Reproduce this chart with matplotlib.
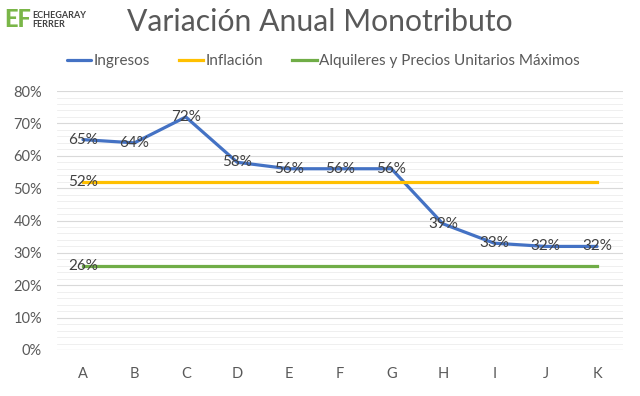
import matplotlib.pyplot as plt
import numpy as np

# Datos
categorias = ['A', 'B', 'C', 'D', 'E', 'F', 'G', 'H', 'I', 'J', 'K']
ingresos = [65, 64, 72, 58, 56, 56, 56, 39, 33, 32, 32]
inflacion = [52] * 11
alquileres = [26] * 11
y_ticks = [0, 10, 20, 30, 40, 50, 60, 70, 80]

plt.rcParams['font.family'] = ['Lato', 'DejaVu Sans']

fig = plt.figure(figsize=(6.4, 3.96), dpi=100)
ax = fig.add_axes([0.0895, 0.1162, 0.8835, 0.6538])

x = np.arange(len(categorias))
ax.plot(x, ingresos, color='#4472C4', linewidth=2.3, label='Ingresos', solid_capstyle='round')
ax.plot(x, inflacion, color='#FFC000', linewidth=2.3, label='Inflación')
ax.plot(x, alquileres, color='#70AD47', linewidth=2.3, label='Alquileres y Precios Unitarios Máximos')

# Etiquetas de datos
for xi, v in zip(x, ingresos):
    ax.text(xi, v, f'{v}%', ha='center', va='center', fontsize=11, color='#404040')
ax.text(x[0], inflacion[0], f'{inflacion[0]}%', ha='center', va='center', fontsize=11, color='#404040')
ax.text(x[0], alquileres[0], f'{alquileres[0]}%', ha='center', va='center', fontsize=11, color='#404040')

ax.set_xlim(-0.5, len(categorias) - 0.5)
ax.set_ylim(0, 80)
ax.set_xticks(x)
ax.set_xticklabels(categorias)
ax.set_yticks(y_ticks)
ax.set_yticklabels([f'{t}%' for t in y_ticks])
ax.set_yticks(np.arange(0, 81, 2), minor=True)
ax.tick_params(axis='both', which='both', length=0, labelsize=10.5, colors='#595959')
ax.tick_params(axis='y', pad=11)
ax.tick_params(axis='x', pad=12)
ax.grid(True, axis='y', which='major', color='#D9D9D9', linewidth=0.8)
ax.grid(True, axis='y', which='minor', color='#EDEDED', linewidth=0.6)
ax.set_axisbelow(True)
for s in ax.spines.values():
    s.set_visible(False)
ax.axhline(0, color='#D9D9D9', linewidth=0.8)

fig.text(0.5, 0.945, 'Variación Anual Monotributo', ha='center', va='center', fontsize=21.7, color='#595959')

leg = ax.legend(loc='center', ncol=3, frameon=False, fontsize=11,
                labelcolor='#595959', handlelength=1.6, handletextpad=0.15, columnspacing=1.9)
leg.set_bbox_to_anchor((0.505, 0.846), transform=fig.transFigure)

# Logo
fig.text(0.006, 0.95, 'EF', ha='left', va='center', fontsize=17, fontweight='black', color='#7AB648')
fig.text(0.051, 0.962, 'ECHEGARAY', ha='left', va='center', fontsize=6.5, fontweight='bold', color='#404040')
fig.text(0.051, 0.937, 'FERRER', ha='left', va='center', fontsize=6.5, fontweight='bold', color='#404040')

plt.savefig('out.png', dpi=100)
